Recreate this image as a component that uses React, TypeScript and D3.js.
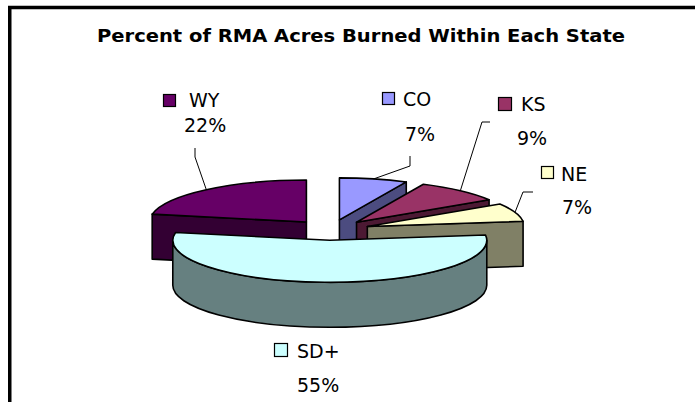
import React from "react";
import * as d3 from "d3";

// ---- data ----
const states = ["CO", "KS", "NE", "SD+", "WY"];
const percents = [7, 9, 7, 55, 22];
const topColors = ["#9999FF", "#993366", "#FFFFCC", "#CCFFFF", "#660066"];
const sideColors = ["#4C4C80", "#4C1933", "#808066", "#668080", "#330033"];
const title = "Percent of RMA Acres Burned Within Each State";

// ---- layout ----
const W = 695;
const H = 402;
const CX = 331;
const CY = 230;
const RX = 157;
const RY = 42;
const DEPTH = 45;
const EXPLODE = 38.6;

// label placements: key square (x,y,size), name (x,y), percent (x,y), leader bend points
const labelLayout: Record<string, any> = {
  CO: { sq: [382, 92, 12], name: [403, 106], pct: [405, 141], bend: [[410, 156], [410, 166]] },
  KS: { sq: [498, 97, 13], name: [521, 111], pct: [517, 145], bend: [[490, 122], [482, 122]] },
  NE: { sq: [541, 166, 12], name: [561, 181], pct: [562, 214], bend: [[533, 192], [523, 192]] },
  "SD+": { sq: [274, 343, 13], name: [297, 358], pct: [297, 392], bend: null },
  WY: { sq: [163, 94, 12], name: [189, 107], pct: [184, 132], bend: [[195, 148], [195, 157]] },
};

const k = RY / RX;

function pt(cx: number, cy: number, a: number, dy = 0): [number, number] {
  return [cx + RX * Math.sin(a), cy - RY * Math.cos(a) + dy];
}

export default function App() {
  const pie = d3
    .pie<number>()
    .sort(null)
    .startAngle(0)
    .endAngle(2 * Math.PI)
    .value((d) => d);
  const arcs = pie(percents);

  const slices = arcs.map((a, i) => {
    const mid = (a.startAngle + a.endAngle) / 2;
    const cx = CX + EXPLODE * Math.sin(mid);
    const cy = CY - EXPLODE * k * Math.cos(mid);
    return { i, s: a.startAngle, e: a.endAngle, mid, cx, cy };
  });

  const order = [...slices].sort((p, q) => Math.cos(q.mid) - Math.cos(p.mid));

  const f = (p: [number, number]) => `${p[0].toFixed(2)},${p[1].toFixed(2)}`;

  const sliceEls = order.map((sl) => {
    const { i, s, e, cx, cy } = sl;
    const els: JSX.Element[] = [];
    const stroke = { stroke: "#000", strokeWidth: 1.6, strokeLinejoin: "round" as const };
    // outer wall
    const a0 = Math.max(s, Math.PI / 2);
    const a1 = Math.min(e, (3 * Math.PI) / 2);
    if (a1 > a0) {
      const large = a1 - a0 > Math.PI ? 1 : 0;
      const d =
        `M${f(pt(cx, cy, a0))} A${RX},${RY} 0 ${large} 1 ${f(pt(cx, cy, a1))}` +
        ` L${f(pt(cx, cy, a1, DEPTH))} A${RX},${RY} 0 ${large} 0 ${f(pt(cx, cy, a0, DEPTH))} Z`;
      els.push(<path key="wall" d={d} fill={sideColors[i]} {...stroke} />);
    }
    // radial faces
    const apex: [number, number] = [cx, cy];
    const apexB: [number, number] = [cx, cy + DEPTH];
    if (Math.sin(s) < -1e-6) {
      const d = `M${f(apex)} L${f(pt(cx, cy, s))} L${f(pt(cx, cy, s, DEPTH))} L${f(apexB)} Z`;
      els.push(<path key="fs" d={d} fill={sideColors[i]} {...stroke} />);
    }
    if (Math.sin(e) > 1e-6) {
      const d = `M${f(apex)} L${f(pt(cx, cy, e))} L${f(pt(cx, cy, e, DEPTH))} L${f(apexB)} Z`;
      els.push(<path key="fe" d={d} fill={sideColors[i]} {...stroke} />);
    }
    // top
    const large = e - s > Math.PI ? 1 : 0;
    const dTop = `M${f(apex)} L${f(pt(cx, cy, s))} A${RX},${RY} 0 ${large} 1 ${f(pt(cx, cy, e))} Z`;
    els.push(<path key="top" d={dTop} fill={topColors[i]} {...stroke} />);
    return <g key={states[i]}>{els}</g>;
  });

  const labelEls = slices.map((sl) => {
    const name = states[sl.i];
    const L = labelLayout[name];
    const rim = pt(sl.cx, sl.cy, sl.mid);
    return (
      <g key={"lab" + name}>
        {L.bend && (
          <polyline
            points={[...L.bend, rim].map((p: number[]) => p.join(",")).join(" ")}
            fill="none"
            stroke="#000"
            strokeWidth={1}
          />
        )}
        <rect
          x={L.sq[0] + 0.5}
          y={L.sq[1] + 0.5}
          width={L.sq[2]}
          height={L.sq[2]}
          fill={topColors[sl.i]}
          stroke="#000"
          strokeWidth={1.2}
        />
        <text x={L.name[0]} y={L.name[1]} fontSize={19} fontFamily="DejaVu Sans" fill="#000">
          {name}
        </text>
        <text x={L.pct[0]} y={L.pct[1]} fontSize={19} fontFamily="DejaVu Sans" fill="#000">
          {percents[sl.i]}%
        </text>
      </g>
    );
  });

  return (
    <svg
      width={W}
      height={H}
      style={{ position: "absolute", left: 0, top: 0, display: "block" }}
      viewBox={`0 0 ${W} ${H}`}
    >
      <rect x={0} y={0} width={W} height={H} fill="#fff" />
      <rect x={9.75} y={7.5} width={720} height={420} fill="#fff" stroke="#000" strokeWidth={3.5} />
      <text
        x={361}
        y={42}
        textAnchor="middle"
        fontSize={17}
        fontWeight="bold"
        fontFamily="DejaVu Sans"
        textLength={528}
        lengthAdjust="spacingAndGlyphs"
        fill="#000"
      >
        {title}
      </text>
      {sliceEls}
      {labelEls}
    </svg>
  );
}
